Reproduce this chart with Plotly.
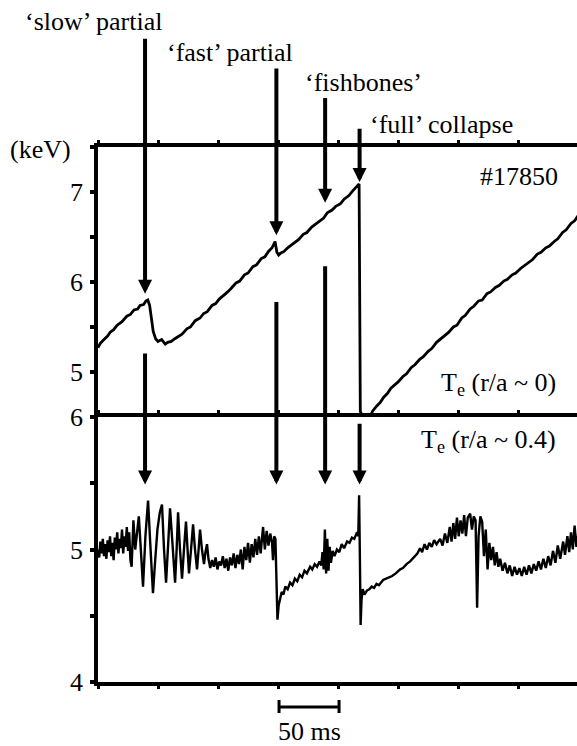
import plotly.graph_objects as go

# ---------------- data (time in ms, Te in keV) ----------------
t_core = [0, 2, 5, 8, 10, 13, 16, 20, 24, 27, 30, 33, 35, 38, 40, 41.5,
          43, 44.5, 46, 48, 50, 53, 56, 58, 61, 64, 67, 70,
          74, 77, 81, 85, 88, 91, 95, 98, 101, 104, 108, 111, 115, 118, 122, 125,
          129, 132, 136, 139, 142, 145, 147.5,
          149, 150.5, 152, 155, 158, 161, 164, 167, 171, 174, 178, 181, 185, 188,
          191, 195, 198, 202, 205, 209, 212, 215.5, 217.5,
          218.5, 220, 222.5, 225, 227, 229,
          232, 235, 238, 241, 244, 247, 250, 254, 257, 261, 264, 268, 271, 275,
          278, 282, 285, 289, 292, 296, 299, 303, 306, 310, 313, 317, 320, 324,
          327, 331, 334, 338, 341, 345, 348, 352, 355, 359, 362, 366, 369, 373,
          376, 380, 383, 387, 390, 394, 397, 400]
te_core = [5.27, 5.32, 5.36, 5.40, 5.44, 5.47, 5.52, 5.56, 5.62, 5.64, 5.69, 5.70, 5.74, 5.75, 5.79, 5.80,
           5.74, 5.58, 5.45, 5.37, 5.34, 5.36, 5.31, 5.33, 5.34, 5.37, 5.40, 5.42,
           5.48, 5.50, 5.57, 5.60, 5.65, 5.67, 5.74, 5.76, 5.81, 5.84, 5.89, 5.93, 5.99, 6.01, 6.08, 6.10,
           6.17, 6.19, 6.26, 6.28, 6.34, 6.38, 6.45,
           6.33, 6.30, 6.32, 6.34, 6.38, 6.41, 6.45, 6.47, 6.53, 6.55, 6.61, 6.64, 6.69, 6.71,
           6.77, 6.80, 6.84, 6.87, 6.92, 6.96, 7.01, 7.06, 7.09,
           4.56, 4.52, 4.51, 4.53, 4.52, 4.57,
           4.62, 4.66, 4.72, 4.76, 4.82, 4.85, 4.89, 4.95, 4.98, 5.05, 5.08, 5.14, 5.17, 5.23,
           5.26, 5.33, 5.36, 5.40, 5.44, 5.50, 5.52, 5.60, 5.63, 5.70, 5.73, 5.79, 5.80, 5.87,
           5.89, 5.94, 5.96, 6.01, 6.03, 6.08, 6.10, 6.15, 6.18, 6.23, 6.25, 6.31, 6.33, 6.38,
           6.40, 6.45, 6.48, 6.55, 6.58, 6.65, 6.68, 6.74]

t_mid = [0, 1, 2, 3, 4, 5, 6, 7, 8, 9, 10, 11, 12, 13, 14, 15, 16, 17, 18, 19, 20,
         21, 22, 23, 24, 25, 26, 27, 28, 29.5, 31, 32.5, 34, 36, 37.5, 39.5, 41.7, 43.5,
         45.8, 47.5, 49.5, 51.5, 53.3, 55, 56.7, 58.5, 60, 62, 64.2, 65.5, 66.7, 68.3,
         70, 71.6, 73.3, 74.6, 75.8, 77.5, 79.2, 80.8, 82.5, 83.8, 85, 86.6, 88.3, 89.5,
         90.8, 92, 93.5, 95, 96.5, 98, 99.5, 101, 102.5, 104, 105.5, 107, 108.5, 110,
         111.5, 113, 114.5, 116, 117.5, 119, 120.5, 122, 123.5, 125, 126.5, 128, 129.5,
         131, 132.5, 134, 135.5, 137.5, 139, 140.5, 142, 143.5, 145, 145.8, 146.8, 147.8,
         148.6, 149.5, 150.5, 151.7, 153, 154.5, 156, 158, 160, 162, 164, 166, 168, 170,
         172, 174, 176.7, 178.5, 180.5, 182.5, 184.5, 186, 187, 188, 189, 190, 191, 192,
         193, 194, 195.5, 197, 199, 201, 203, 205, 207.5, 209.5, 211.5, 213.5, 215.8,
         216.8, 217.5, 218.2, 218.75, 219.5, 220.5, 222, 224, 226, 228, 230, 232, 234,
         237.5, 240, 242.5, 245, 248, 251.7, 254, 257, 260, 263, 266, 268.3, 270, 272,
         274, 276, 278, 280, 282, 285, 287, 289, 291, 293, 294.5, 296, 297.5, 299, 300.5,
         302, 303.5, 305, 306.5, 308, 310, 311.5, 313, 314.5, 315.8, 317, 318.5, 320,
         321.5, 323, 324.5, 326, 327.5, 329, 330.5, 332, 333.5, 335, 337, 339, 341, 343,
         345, 347, 349, 351, 353, 355, 357, 359, 361, 363, 365, 367, 369, 371, 373, 375,
         377, 379, 381, 383, 385, 387.5, 389, 391, 392.5, 394, 395.5, 397, 398.5, 400]
te_mid = [5.00, 4.94, 5.06, 4.97, 5.08, 4.95, 5.04, 4.93, 5.07, 4.98, 5.10, 4.95, 5.05, 4.92, 5.09, 5.00, 5.13, 4.97, 5.08, 5.01, 5.15,
          4.97, 5.10, 5.02, 5.17, 4.99, 5.13, 4.92, 4.87, 5.22, 5.00, 5.12, 5.25, 4.95, 4.72, 5.10, 5.37, 5.05,
          4.67, 4.90, 5.15, 5.28, 5.34, 5.00, 4.75, 5.05, 5.31, 5.05, 4.75, 5.00, 5.28, 5.00,
          4.78, 5.00, 5.21, 5.00, 4.82, 5.00, 5.19, 5.00, 4.85, 5.00, 5.15, 5.00, 4.89, 4.98,
          5.04, 4.93, 4.86, 4.92, 4.87, 4.94, 4.85, 4.91, 4.88, 4.95, 4.86, 4.93, 4.84, 4.94,
          4.88, 4.97, 4.86, 4.96, 4.89, 5.00, 4.85, 5.02, 4.92, 5.05, 4.90, 5.04, 4.94,
          5.08, 4.96, 5.10, 4.97, 5.17, 5.00, 5.14, 5.03, 5.12, 5.05, 4.92, 5.10, 5.08,
          4.75, 4.47, 4.58, 4.62, 4.68, 4.66, 4.72, 4.70, 4.75, 4.73, 4.78, 4.76, 4.81, 4.79,
          4.84, 4.82, 4.87, 4.85, 4.89, 4.87, 4.91, 4.88, 4.98, 4.85, 5.15, 4.82, 5.08, 4.84,
          5.02, 4.90, 4.99, 4.95, 5.00, 4.98, 5.04, 5.01, 5.06, 5.05, 5.09, 5.08, 5.13,
          5.10, 5.41, 4.90, 4.43, 4.62, 4.70, 4.66, 4.69, 4.70, 4.72, 4.71, 4.74, 4.73,
          4.77, 4.78, 4.79, 4.80, 4.82, 4.85, 4.86, 4.89, 4.91, 4.94, 4.97, 5.01, 4.98, 5.04,
          5.00, 5.05, 5.02, 5.07, 5.04, 5.08, 5.03, 5.12, 5.05, 5.17, 5.06, 5.20, 5.08, 5.24, 5.10,
          5.22, 5.12, 5.26, 5.10, 5.24, 5.27, 5.15, 5.25, 5.22, 4.56, 5.10, 5.25, 5.21,
          4.95, 5.15, 4.85, 5.05, 4.92, 5.02, 4.88, 4.98, 4.87, 4.93, 4.84, 4.90, 4.82, 4.88,
          4.80, 4.87, 4.81, 4.86, 4.80, 4.87, 4.81, 4.88, 4.82, 4.89, 4.84, 4.91, 4.85, 4.93, 4.86, 4.95,
          4.88, 4.99, 4.90, 5.03, 4.93, 5.06, 4.96, 5.10, 4.98, 5.13, 5.00, 5.18, 5.02, 5.12]

event_labels = ["‘slow’ partial", "‘fast’ partial", "‘fishbones’", "‘full’ collapse"]
event_t = [39.2, 148.6, 189.2, 217.9]
top_tip = [5.87, 6.52, 6.88, 7.11]      # keV, upper-panel units
top_tail = [8.72, 8.39, 8.06, 7.72]
low_tip = [5.49, 5.49, 5.49, 5.49]      # keV, lower-panel units
low_tail = [6.49, 6.88, 7.15, 5.96]
scale_bar_ms = [150.8, 200.8]

top_ticks = [5, 6, 7]
low_ticks = [4, 5, 6]

# ---------------- layout helpers ----------------
W, H = 577, 746
ML, MR, MT, MB = 98, 0, 147, 64
PW, PH = W - ML - MR, H - MT - MB
SPLIT = 417  # pixel row of panel separator


def px(x):
    return (x - ML) / PW


def py(y):
    return (H - MB - y) / PH


split_frac = py(SPLIT)
FONT = "Liberation Serif"
FS = 26

fig = go.Figure()
fig.add_trace(go.Scatter(x=t_core, y=te_core, mode="lines", xaxis="x2", yaxis="y2",
                         line=dict(color="black", width=2.8), showlegend=False))
fig.add_trace(go.Scatter(x=t_mid, y=te_mid, mode="lines", xaxis="x", yaxis="y",
                         line=dict(color="black", width=2.4), showlegend=False))

xcommon = dict(range=[0, 399], showgrid=False, zeroline=False, showline=True,
               linecolor="black", linewidth=3.5, ticks="outside",
               tick0=0, dtick=50, ticklen=3, tickwidth=3, tickcolor="black",
               showticklabels=False)
ycommon = dict(showgrid=False, zeroline=False, showline=True, linecolor="black",
               linewidth=3.5, ticks="outside", ticklen=4, tickwidth=4, tickcolor="black",
               ticklabelstandoff=2,
               tickfont=dict(family=FONT, size=FS, color="black"),
               minor=dict(dtick=0.5, ticks="outside", ticklen=4, tickwidth=4, tickcolor="black"))

annotations = []
for i in range(4):
    annotations.append(dict(xref="x2", yref="y2", axref="x2", ayref="y2",
                            x=event_t[i], y=top_tip[i], ax=event_t[i], ay=top_tail[i],
                            text="", showarrow=True, arrowhead=2, arrowsize=0.7,
                            arrowwidth=4, arrowcolor="black", standoff=0))
    annotations.append(dict(xref="x", yref="y", axref="x", ayref="y",
                            x=event_t[i], y=low_tip[i], ax=event_t[i], ay=low_tail[i],
                            text="", showarrow=True, arrowhead=2, arrowsize=0.7,
                            arrowwidth=4, arrowcolor="black", standoff=0))

label_pos = [(23, 21), (165, 53), (303, 82), (368, 125)]
for lab, (lx, ly) in zip(event_labels, label_pos):
    annotations.append(dict(xref="paper", yref="paper", x=px(lx), y=py(ly), text=lab,
                            showarrow=False, xanchor="left", yanchor="middle",
                            font=dict(family=FONT, size=FS, color="black")))

texts = [("(keV)", 8, 150, "left"), ("#17850", 560, 176, "right"),
         ("T<sub>e</sub> (r/a ~ 0)", 558, 384, "right"),
         ("T<sub>e</sub> (r/a ~ 0.4)", 558, 441, "right"),
         ("50 ms", 309, 731, "center")]
for txt, tx, ty, anc in texts:
    annotations.append(dict(xref="paper", yref="paper", x=px(tx), y=py(ty), text=txt,
                            showarrow=False, xanchor=anc, yanchor="middle",
                            font=dict(family=FONT, size=FS, color="black")))

shapes = [
    dict(type="line", xref="x", yref="paper", x0=scale_bar_ms[0], x1=scale_bar_ms[1],
         y0=py(707), y1=py(707), line=dict(color="black", width=3)),
    dict(type="line", xref="x", yref="paper", x0=scale_bar_ms[0], x1=scale_bar_ms[0],
         y0=py(700), y1=py(713), line=dict(color="black", width=3)),
    dict(type="line", xref="x", yref="paper", x0=scale_bar_ms[1], x1=scale_bar_ms[1],
         y0=py(700), y1=py(713), line=dict(color="black", width=3)),
]

fig.update_layout(
    width=W, height=H, margin=dict(l=ML, r=MR, t=MT, b=MB),
    paper_bgcolor="white", plot_bgcolor="white", showlegend=False,
    xaxis=dict(domain=[0, 1], anchor="y", mirror="ticks", **xcommon),
    xaxis2=dict(domain=[0, 1], anchor="y2", matches="x", side="top", **xcommon),
    yaxis=dict(domain=[0, split_frac], anchor="x", range=[4, 6], tickvals=low_ticks, **ycommon),
    yaxis2=dict(domain=[split_frac, 1], anchor="x2", range=[4.5, 7.5], tickvals=top_ticks, **ycommon),
    annotations=annotations, shapes=shapes,
)

fig.write_html("out.html")
